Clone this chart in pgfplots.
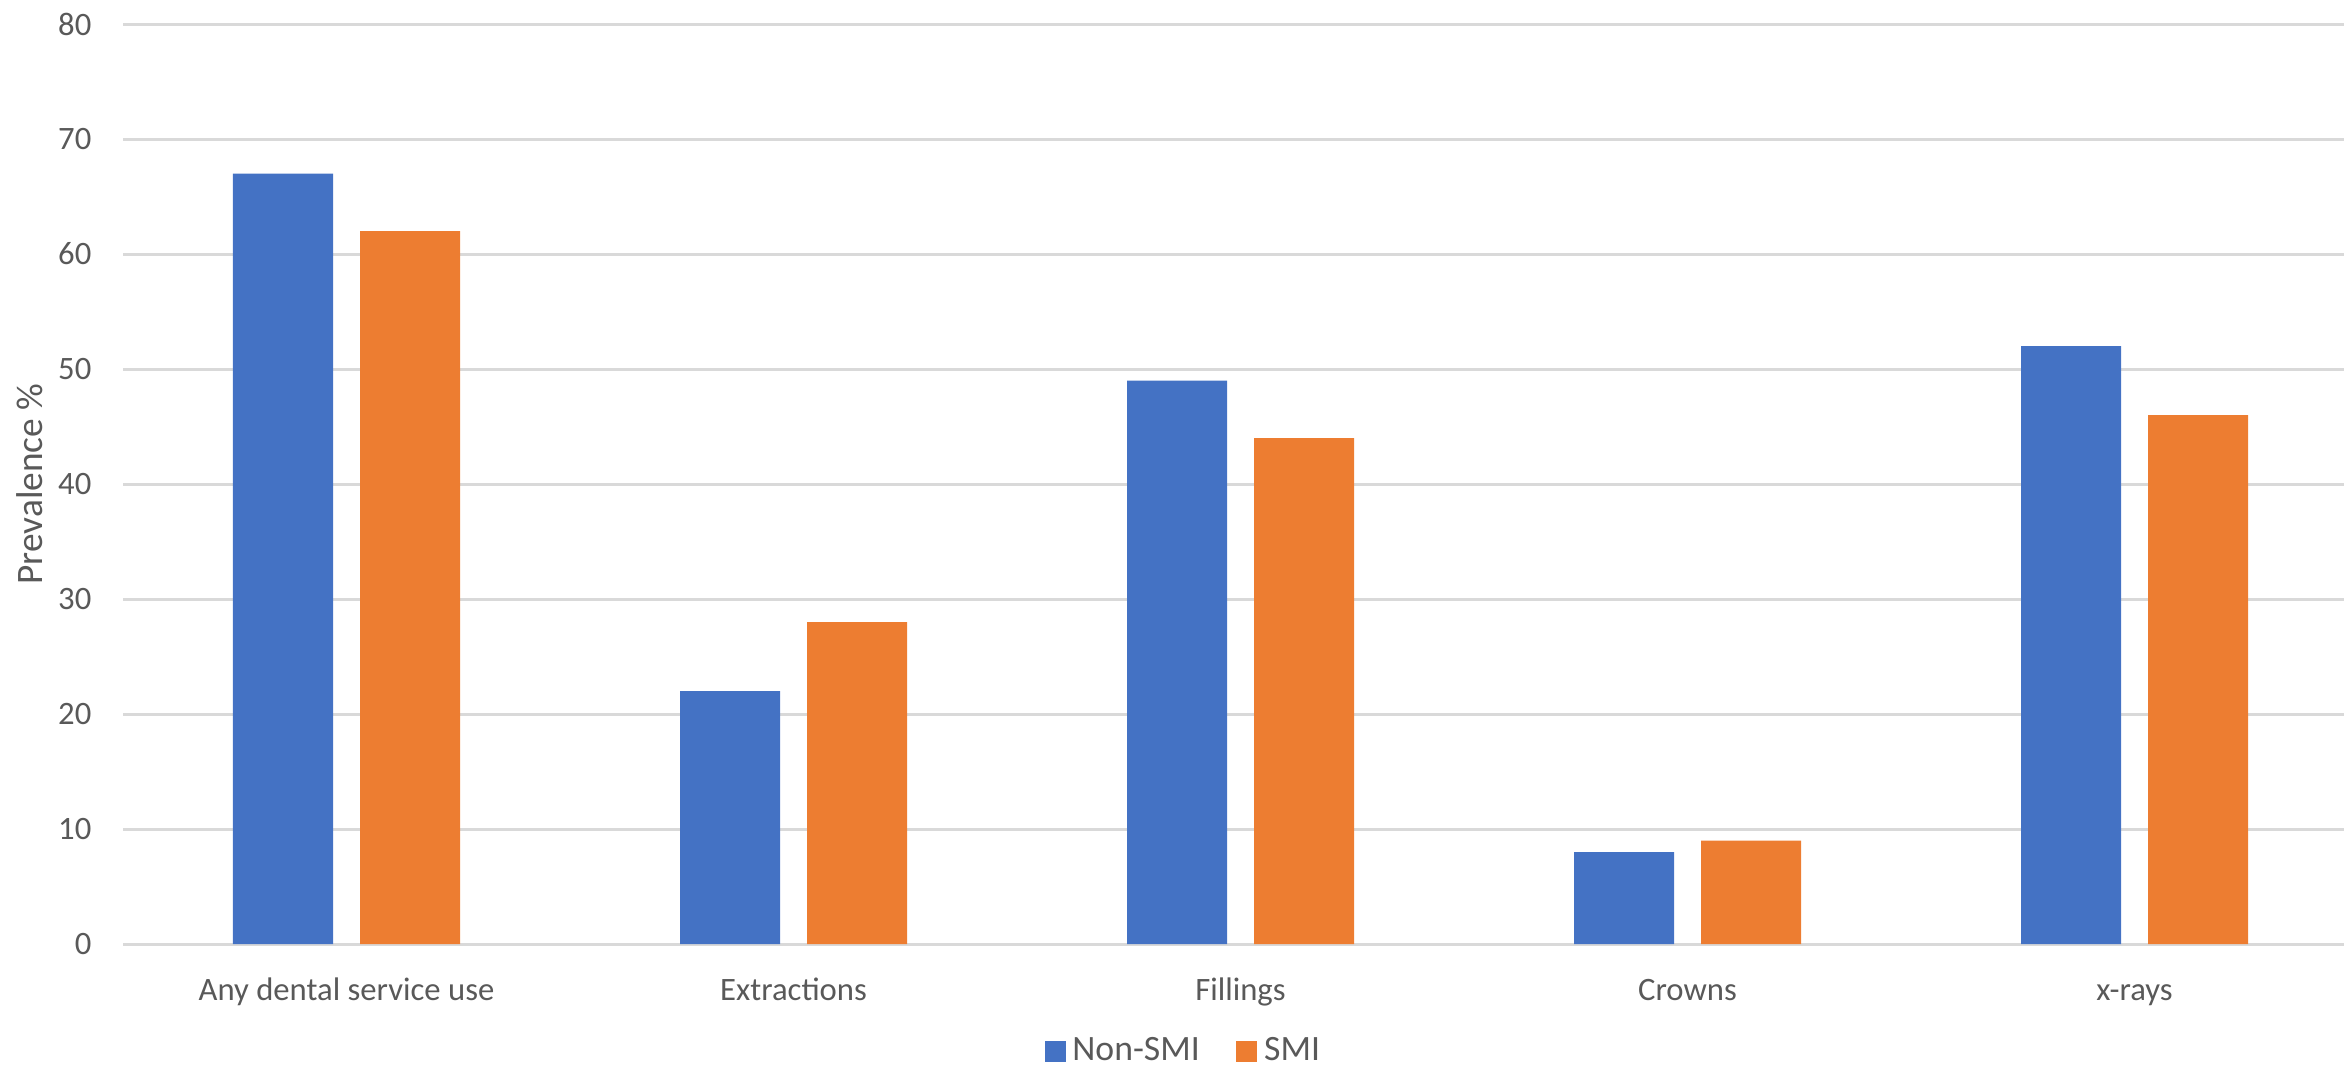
\documentclass[border=0pt]{standalone}
\usepackage{pgfplots}
\pgfplotsset{compat=1.18}
\usepackage{fontspec}
\setmainfont{Carlito}
\definecolor{cblue}{HTML}{4472C4}
\definecolor{corange}{HTML}{ED7D31}
\definecolor{ctext}{HTML}{595959}
\definecolor{cgrid}{HTML}{D9D9D9}
\begin{document}
\begin{tikzpicture}
\begin{axis}[
  at={(0,0)}, anchor=south west,
  scale only axis,
  width=670.5pt, height=276pt,
  ybar=8.1pt, bar width=30pt,
  xmin=-0.5, xmax=4.5,
  ymin=0, ymax=80,
  ytick={0,10,...,80},
  xtick={0,1,2,3,4},
  xticklabels={Any dental service use, Extractions, Fillings, Crowns, x-rays},
  major tick length=0pt,
  axis line style={draw=none},
  ymajorgrids, grid style={cgrid, line width=0.9pt},
  /pgf/number format/assume math mode=true,
  tick label style={font=\fontsize{9.8pt}{11pt}\selectfont, text=ctext},
  yticklabel style={anchor=east, inner sep=0pt, xshift=-9.3pt},
  xticklabel style={anchor=base, inner sep=0pt, yshift=-16.8pt},
  ylabel={Prevalence \%},
  ylabel style={at={(axis description cs:-0.0416,0.5)}, anchor=center, font=\fontsize{11.2pt}{13pt}\selectfont, text=ctext},
  legend columns=2,
  legend style={at={(axis description cs:0.4755,-0.1163)}, anchor=center, draw=none, fill=none,
    font=\fontsize{10.7pt}{12pt}\selectfont, text=ctext,
    /tikz/every even column/.append style={column sep=9pt}},
  legend image code/.code={\fill[#1] (-1.3pt,-3.15pt) rectangle (5.0pt,3.15pt);},
  legend cell align=left,
]
\addplot[fill=cblue, draw=none] coordinates {(0,67) (1,22) (2,49) (3,8) (4,52)};
\addplot[fill=corange, draw=none] coordinates {(0,62) (1,28) (2,44) (3,9) (4,46)};
\legend{Non-SMI, SMI}
\end{axis}
\pgfresetboundingbox
\useasboundingbox (-36.9pt,-36.6pt) rectangle (666.3pt,283.2pt);
\end{tikzpicture}
\end{document}
